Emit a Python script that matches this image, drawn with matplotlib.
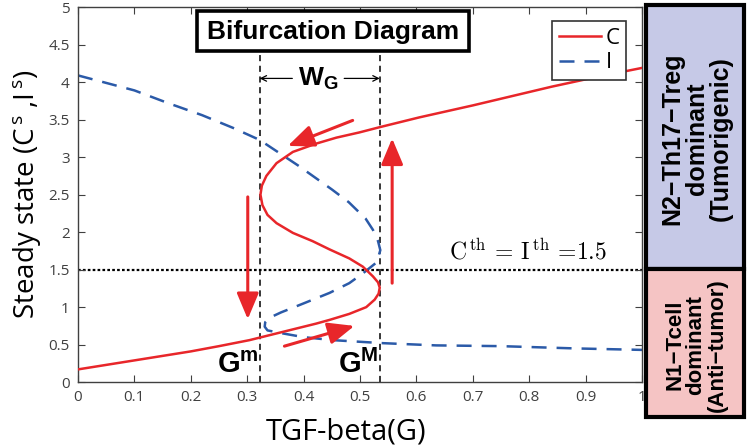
import matplotlib.pyplot as plt
from matplotlib.patches import Rectangle

# steady state curves, traced along the S-shaped path
c_g = [0, 0.05, 0.1, 0.15, 0.2, 0.25, 0.304, 0.363, 0.422, 0.446, 0.481, 0.511,
       0.526, 0.533, 0.535, 0.532, 0.523, 0.505, 0.481, 0.446, 0.416, 0.381,
       0.352, 0.336, 0.327, 0.3235, 0.326, 0.334, 0.352, 0.381, 0.422, 0.458,
       0.499, 0.535, 0.605, 0.7, 0.84, 0.92, 1.0]
c_val = [0.17, 0.23, 0.29, 0.35, 0.41, 0.48, 0.56, 0.67, 0.78, 0.83, 0.91, 1.0,
         1.1, 1.18, 1.26, 1.33, 1.41, 1.54, 1.65, 1.77, 1.88, 1.99,
         2.12, 2.23, 2.36, 2.5, 2.62, 2.75, 2.92, 3.07, 3.18, 3.26,
         3.33, 3.4, 3.53, 3.69, 3.94, 4.07, 4.19]
i_g = [0, 0.1, 0.16, 0.22, 0.275, 0.322, 0.39, 0.45, 0.48, 0.51, 0.523, 0.532,
       0.536, 0.53, 0.505, 0.481, 0.446, 0.40, 0.36, 0.34, 0.332, 0.331, 0.336,
       0.363, 0.40, 0.452, 0.54, 0.635, 0.75, 0.88, 1.0]
i_val = [4.09, 3.89, 3.72, 3.56, 3.39, 3.23, 2.89, 2.57, 2.40, 2.18, 2.03, 1.88,
         1.76, 1.6, 1.45, 1.32, 1.19, 1.05, 0.93, 0.86, 0.80, 0.74, 0.69,
         0.65, 0.60, 0.56, 0.52, 0.49, 0.48, 0.45, 0.43]

g_min = 0.322
g_max = 0.535
c_th = 1.5

x_ticks = [0, 0.1, 0.2, 0.3, 0.4, 0.5, 0.6, 0.7, 0.8, 0.9, 1]
x_tick_labels = ["0", "0.1", "0.2", "0.3", "0.4", "0.5", "0.6", "0.7", "0.8", "0.9", "1"]
y_ticks = [0, 0.5, 1, 1.5, 2, 2.5, 3, 3.5, 4, 4.5, 5]
y_tick_labels = ["0", "0.5", "1", "1.5", "2", "2.5", "3", "3.5", "4", "4.5", "5"]

# transition arrows: tail G, tail value, head G, head value
arrows = [
    (0.487, 3.49, 0.372, 3.15),
    (0.301, 2.47, 0.301, 0.84),
    (0.366, 0.48, 0.490, 0.75),
    (0.557, 1.32, 0.557, 3.25),
]

red = "#e8262a"
blue = "#2b5aa8"
narrow = ["Liberation Sans Narrow", "Liberation Sans"]
plain = ["Open Sans", "DejaVu Sans"]

plt.rcParams["mathtext.fontset"] = "custom"
plt.rcParams["mathtext.rm"] = "Open Sans"
plt.rcParams["mathtext.bf"] = "Liberation Sans:bold"


def plot_all():
    fig = plt.figure(figsize=(7.5, 4.48), dpi=100)
    ax = fig.add_axes([0.104, 0.147, 0.752, 0.837])

    # threshold and fold lines
    ax.axhline(c_th, color="black", ls=(0, (1.2, 1.0)), lw=1.6, zorder=1)
    for g in [g_min, g_max]:
        ax.plot([g, g], [0, 4.45], color="black", ls=(0, (4, 3)), lw=1.1, zorder=1)

    ax.plot(c_g, c_val, color=red, lw=1.8, label="C", zorder=3)
    ax.plot(i_g, i_val, color=blue, lw=1.8, ls=(0, (6, 4)), label="I", zorder=2)

    for g0, v0, g1, v1 in arrows:
        ax.annotate(
            "",
            xy=(g1, v1),
            xytext=(g0, v0),
            arrowprops=dict(
                arrowstyle="-|>,head_length=1.0,head_width=0.42",
                color=red,
                lw=2.2,
                mutation_scale=16,
                shrinkA=0,
                shrinkB=0,
            ),
            zorder=4,
        )

    # W_G width between the two folds
    ax.annotate("", xy=(g_min, 4.05), xytext=(0.38, 4.05),
                arrowprops=dict(arrowstyle="->", color="black", lw=0.9, shrinkA=0, shrinkB=0))
    ax.annotate("", xy=(g_max, 4.05), xytext=(0.472, 4.05),
                arrowprops=dict(arrowstyle="->", color="black", lw=0.9, shrinkA=0, shrinkB=0))
    ax.text(0.426, 4.05, r"W$_\mathbf{G}$", ha="center", va="center",
            fontsize=19, weight="bold", family=narrow)

    ax.text(g_min - 0.002, 0.12, r"G$^\mathbf{m}$", ha="right", va="baseline",
            fontsize=21, weight="bold", family=narrow)
    ax.text(g_max - 0.002, 0.12, r"G$^\mathbf{M}$", ha="right", va="baseline",
            fontsize=21, weight="bold", family=narrow)

    ax.text(0.658, 1.63, r"$\mathrm{C^{\,th}}$ = $\mathrm{I^{\,th}}$ =1.5", ha="left",
            va="baseline", fontsize=17, family="cmr10", math_fontfamily="cm")

    # title box
    ax.add_patch(Rectangle((0.211, 4.41), 0.483, 0.54, facecolor="white",
                           edgecolor="black", lw=2.6, zorder=5))
    ax.text(0.452, 4.67, "Bifurcation Diagram", ha="center", va="center",
            fontsize=19, weight="bold", family=narrow, zorder=6)

    leg = ax.legend(loc="upper right", bbox_to_anchor=(0.972, 0.962), borderaxespad=0,
                    fancybox=False, framealpha=1, edgecolor="#333333",
                    prop={"family": plain, "size": 16}, handlelength=1.9,
                    handletextpad=0.2, borderpad=0.3, labelspacing=0.15)
    leg.get_frame().set_linewidth(1.2)
    leg.set_zorder(7)

    ax.set_xlim(0, 1)
    ax.set_ylim(0, 5)
    ax.set_xticks(x_ticks)
    ax.set_xticklabels(x_tick_labels, family=plain, fontsize=11, color="#404040")
    ax.set_yticks(y_ticks)
    ax.set_yticklabels(y_tick_labels, family=plain, fontsize=11, color="#404040")
    ax.tick_params(direction="in", top=True, right=True, length=5, color="#404040", pad=6)
    for s in ax.spines.values():
        s.set_color("#404040")
        s.set_linewidth(1.0)

    ax.set_xlabel("TGF-beta(G)", family=plain, fontsize=21)
    ax.xaxis.set_label_coords(0.475, -0.095)
    ax.set_ylabel(r"Steady state (C$^{\,\mathrm{s}}$ ,I$^{\,\mathrm{s}}$)", family=plain,
                  fontsize=20, labelpad=3)

    # regime boxes on the right
    fig.add_artist(Rectangle((0.861, 0.400), 0.131, 0.589, transform=fig.transFigure,
                             facecolor="#c6c9e7", edgecolor="black", lw=3))
    fig.add_artist(Rectangle((0.861, 0.069), 0.131, 0.331, transform=fig.transFigure,
                             facecolor="#f5c4c4", edgecolor="black", lw=3))
    fig.text(0.929, 0.69, "N2\u2212Th17\u2212Treg\ndominant\n(Tumorigenic)", rotation=90,
             ha="center", va="center", fontsize=18, weight="bold",
             family="Liberation Sans", linespacing=1.0)
    fig.text(0.928, 0.23, "N1\u2212Tcell\ndominant\n(Anti\u2212tumor)", rotation=90,
             ha="center", va="center", fontsize=16, weight="bold",
             family="Liberation Sans", linespacing=1.0)

    plt.savefig("out.png", dpi=100)


if __name__ == "__main__":
    plot_all()
